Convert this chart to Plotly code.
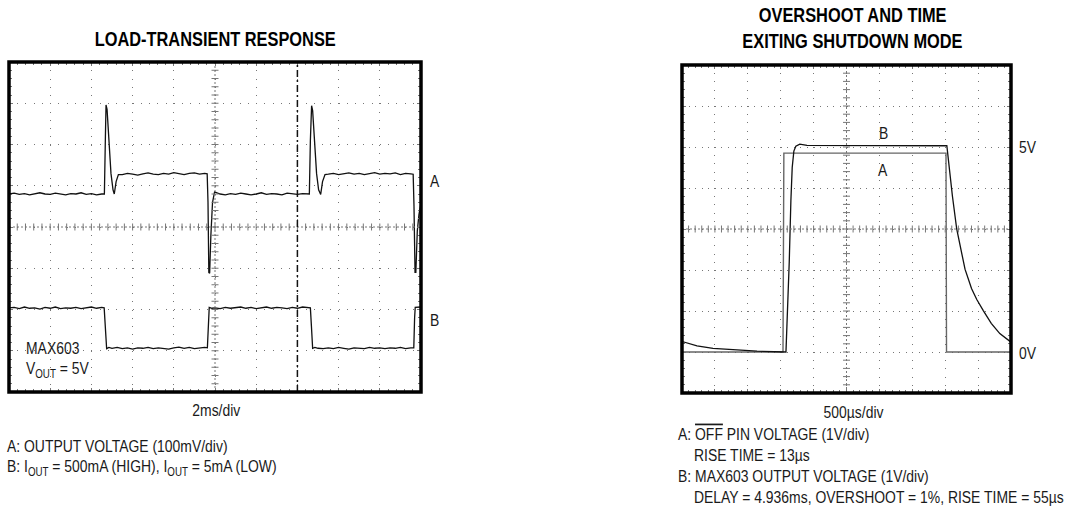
import plotly.graph_objects as go
import numpy as np

# ---------------- DATA ----------------
# Left scope: LOAD-TRANSIENT RESPONSE (x in ms, 2 ms/div; y in screen divisions 0..8)
a_time = [0.0, 0.25, 0.5, 0.75, 1.0, 1.25, 1.5, 1.75, 2.0, 2.25, 2.5, 2.75, 3.0, 3.25, 3.5, 3.75, 4.0, 4.25, 4.5,
          4.63, 4.68, 4.71, 4.76, 4.85, 4.95, 5.05, 5.11, 5.2, 5.31,
          5.5, 5.75, 6.0, 6.25, 6.5, 6.75, 7.0, 7.25, 7.5, 7.75, 8.0, 8.25, 8.5, 8.75, 9.0, 9.25, 9.5,
          9.62, 9.66, 9.70, 9.74, 9.80, 9.88, 9.98, 10.1,
          10.25, 10.5, 10.75, 11.0, 11.25, 11.5, 11.75, 12.0, 12.25, 12.5, 12.75, 13.0, 13.25, 13.5, 13.75, 14.0, 14.25, 14.5,
          14.58, 14.63, 14.69, 14.74, 14.83, 14.93, 15.03, 15.13, 15.22, 15.34,
          15.5, 15.75, 16.0, 16.25, 16.5, 16.75, 17.0, 17.25, 17.5, 17.75, 18.0, 18.25, 18.5, 18.75, 19.0, 19.25, 19.5,
          19.62, 19.66, 19.71, 19.75, 19.82, 19.90, 20.0]
a_level = [4.80, 4.82, 4.79, 4.81, 4.78, 4.80, 4.83, 4.80, 4.79, 4.82, 4.80, 4.78, 4.81, 4.80, 4.83, 4.79, 4.81, 4.78, 4.80,
           4.80, 6.20, 6.96, 6.85, 6.00, 5.30, 4.90, 4.80, 5.10, 5.27,
           5.27, 5.30, 5.28, 5.26, 5.29, 5.31, 5.28, 5.27, 5.30, 5.28, 5.32, 5.29, 5.27, 5.30, 5.31, 5.28, 5.30,
           5.29, 4.60, 2.90, 2.88, 3.80, 4.60, 4.85, 4.82,
           4.80, 4.78, 4.81, 4.79, 4.82, 4.80, 4.78, 4.80, 4.83, 4.79, 4.81, 4.80, 4.78, 4.82, 4.80, 4.79, 4.81, 4.80,
           4.80, 6.10, 6.94, 6.82, 6.00, 5.30, 4.90, 4.79, 5.10, 5.27,
           5.28, 5.30, 5.27, 5.29, 5.31, 5.28, 5.30, 5.27, 5.29, 5.32, 5.28, 5.30, 5.29, 5.31, 5.27, 5.30, 5.29,
           5.28, 4.50, 2.90, 2.90, 3.90, 4.30, 4.58]

b_time = [0.0, 0.25, 0.5, 0.75, 1.0, 1.25, 1.5, 1.75, 2.0, 2.25, 2.5, 2.75, 3.0, 3.25, 3.5, 3.75, 4.0, 4.25, 4.5,
          4.62, 4.66, 4.74, 4.85,
          5.0, 5.25, 5.5, 5.75, 6.0, 6.25, 6.5, 6.75, 7.0, 7.25, 7.5, 7.75, 8.0, 8.25, 8.5, 8.75, 9.0, 9.25, 9.5,
          9.63, 9.68, 9.72, 9.85,
          10.0, 10.25, 10.5, 10.75, 11.0, 11.25, 11.5, 11.75, 12.0, 12.25, 12.5, 12.75, 13.0, 13.25, 13.5, 13.75, 14.0, 14.25, 14.5,
          14.63, 14.68, 14.74, 14.85,
          15.0, 15.25, 15.5, 15.75, 16.0, 16.25, 16.5, 16.75, 17.0, 17.25, 17.5, 17.75, 18.0, 18.25, 18.5, 18.75, 19.0, 19.25, 19.5,
          19.65, 19.69, 19.72, 20.0]
b_level = [2.04, 2.05, 2.02, 2.06, 2.03, 2.04, 2.01, 2.05, 2.03, 2.06, 2.02, 2.04, 2.03, 2.05, 2.02, 2.04, 2.06, 2.03, 2.05,
           2.04, 1.60, 1.05, 1.08,
           1.06, 1.08, 1.05, 1.07, 1.04, 1.07, 1.06, 1.08, 1.05, 1.07, 1.06, 1.04, 1.07, 1.09, 1.06, 1.08, 1.05, 1.07, 1.08,
           1.07, 1.90, 2.05, 2.03,
           2.04, 2.02, 2.05, 2.03, 2.04, 2.06, 2.03, 2.05, 2.02, 2.04, 2.06, 2.03, 2.05, 2.04, 2.02, 2.05, 2.03, 2.06, 2.04,
           2.04, 1.60, 1.06, 1.08,
           1.06, 1.05, 1.07, 1.05, 1.08, 1.06, 1.04, 1.07, 1.06, 1.05, 1.08, 1.06, 1.07, 1.05, 1.07, 1.06, 1.08, 1.05, 1.07,
           1.07, 1.80, 2.05, 2.06]

# Right scope: OVERSHOOT AND TIME EXITING SHUTDOWN MODE (x in us, 500 us/div; y in volts, 1 V/div)
off_time = [0, 1535, 1548, 4012, 4020, 5000]
off_volt = [0.0, 0.0, 4.85, 4.85, 0.0, 0.0]

out_time = [0, 15, 228, 471, 836, 1140, 1580, 1600, 1630, 1655, 1675, 1700, 1730, 1790, 1900,
            4025, 4060, 4110, 4175, 4240, 4301, 4400, 4480, 4579, 4700, 4830, 4959, 5000]
out_volt = [0.26, 0.25, 0.15, 0.09, 0.05, 0.02, 0.0, 0.8, 2.2, 3.7, 4.5, 4.9, 5.02, 5.07, 5.04,
            5.03, 4.5, 3.8, 3.0, 2.45, 2.02, 1.55, 1.28, 1.01, 0.7, 0.45, 0.28, 0.24]

# ---------------- STYLE ----------------
W, H = 1070, 520
FONT = "Liberation Sans, Arial, sans-serif"
TXT = "#1a1a1a"
GRID = "#777777"
SQUEEZE = 0.82   # condensed lettering of the original


def px(x):
    return x / W


def py(y):
    return 1 - y / H


fig = go.Figure()

# traces
fig.add_trace(go.Scatter(x=a_time, y=a_level, mode="lines", line=dict(color="#111", width=1.3),
                         xaxis="x", yaxis="y", hoverinfo="skip", showlegend=False))
fig.add_trace(go.Scatter(x=b_time, y=b_level, mode="lines", line=dict(color="#111", width=1.3),
                         xaxis="x", yaxis="y", hoverinfo="skip", showlegend=False))
fig.add_trace(go.Scatter(x=off_time, y=off_volt, mode="lines", line=dict(color="#666", width=1.4),
                         xaxis="x2", yaxis="y2", hoverinfo="skip", showlegend=False))
fig.add_trace(go.Scatter(x=out_time, y=out_volt, mode="lines", line=dict(color="#111", width=1.3),
                         xaxis="x2", yaxis="y2", hoverinfo="skip", showlegend=False))

# centre-line tick marks (decoration of the graticule)
lx = np.linspace(0, 20, 51)
ly = np.linspace(0, 8, 41)
rx = np.linspace(0, 5000, 51)
ry = np.linspace(-1, 7, 41)
tick_m = dict(color=GRID, size=5, line=dict(color=GRID, width=1))
fig.add_trace(go.Scatter(x=lx, y=[4] * len(lx), mode="markers", marker=dict(symbol="line-ns", **tick_m),
                         xaxis="x", yaxis="y", hoverinfo="skip", showlegend=False))
fig.add_trace(go.Scatter(x=[10] * len(ly), y=ly, mode="markers", marker=dict(symbol="line-ew", **tick_m),
                         xaxis="x", yaxis="y", hoverinfo="skip", showlegend=False))
fig.add_trace(go.Scatter(x=rx, y=[3] * len(rx), mode="markers", marker=dict(symbol="line-ns", **tick_m),
                         xaxis="x2", yaxis="y2", hoverinfo="skip", showlegend=False))
fig.add_trace(go.Scatter(x=[2500] * len(ry), y=ry, mode="markers", marker=dict(symbol="line-ew", **tick_m),
                         xaxis="x2", yaxis="y2", hoverinfo="skip", showlegend=False))


def axis(domain, rng, dtick, mdtick, dash):
    return dict(domain=domain, range=rng, dtick=dtick, tick0=rng[0], showgrid=True, gridcolor=GRID,
                gridwidth=1, griddash=dash, zeroline=False, showline=False, showticklabels=False,
                ticks="inside", ticklen=4, tickcolor=GRID, mirror="ticks",
                minor=dict(dtick=mdtick, tick0=rng[0], ticks="inside", ticklen=3, tickcolor=GRID, showgrid=False),
                fixedrange=True)


fig.update_layout(
    width=W, height=H, autosize=False,
    margin=dict(l=0, r=0, t=0, b=0),
    paper_bgcolor="white", plot_bgcolor="white",
    font=dict(family=FONT, size=17, color=TXT),
    xaxis=dict(axis([px(9), px(421)], [0, 20], 2, 0.4, "1px,7.25px"), anchor="y"),
    yaxis=dict(axis([py(392), py(62)], [0, 8], 1, 0.2, "1px,7.24px"), anchor="x"),
    xaxis2=dict(axis([px(682), px(1011)], [0, 5000], 500, 100, "1px,7.2px"), anchor="y2"),
    yaxis2=dict(axis([py(393), py(65)], [-1, 7], 1, 0.2, "1px,5.58px"), anchor="x2"),
)

shapes = []
# centre lines
shapes.append(dict(type="line", xref="x", yref="y domain", x0=10, x1=10, y0=0, y1=1,
                   line=dict(color=GRID, width=1, dash="2px,2px")))
shapes.append(dict(type="line", xref="x domain", yref="y", x0=0, x1=1, y0=4, y1=4,
                   line=dict(color=GRID, width=1, dash="2px,2px")))
shapes.append(dict(type="line", xref="x2", yref="y2 domain", x0=2500, x1=2500, y0=0, y1=1,
                   line=dict(color=GRID, width=1, dash="2px,2px")))
shapes.append(dict(type="line", xref="x2 domain", yref="y2", x0=0, x1=1, y0=3, y1=3,
                   line=dict(color=GRID, width=1, dash="2px,2px")))
# cursor (dash-dot) on left scope
shapes.append(dict(type="line", xref="x", yref="y domain", x0=14, x1=14, y0=0, y1=1,
                   line=dict(color="#111", width=1.5, dash="7px,3px,2px,3px")))
# frames
shapes.append(dict(type="rect", xref="x domain", yref="y domain", x0=0, x1=1, y0=0, y1=1,
                   line=dict(color="black", width=3.5)))
shapes.append(dict(type="rect", xref="x2 domain", yref="y2 domain", x0=0, x1=1, y0=0, y1=1,
                   line=dict(color="black", width=3.5)))
fig.update_layout(shapes=shapes)

ann = []


def text(t, x, y, xanchor="center", size=17, bold=False):
    ann.append(dict(text=("<b>%s</b>" % t) if bold else t, x=px(x), y=py(y), xref="paper", yref="paper",
                    xanchor=xanchor, yanchor="middle", align=xanchor, showarrow=False,
                    font=dict(family=FONT, size=size, color="black" if bold else TXT)))


# left scope texts
text("LOAD-TRANSIENT RESPONSE", 215, 39, size=20, bold=True)
text("A", 428, 181, xanchor="left")
text("B", 428, 320, xanchor="left")
text("MAX603", 24, 348, xanchor="left")
text("V<sub>OUT</sub> = 5V", 24, 370, xanchor="left")
text("2ms/div", 216, 410)
text("A: OUTPUT VOLTAGE (100mV/div)", 5, 446, xanchor="left")
text("B: I<sub>OUT</sub> = 500mA (HIGH), I<sub>OUT</sub> = 5mA (LOW)", 5, 468, xanchor="left")

# right scope texts
text("OVERSHOOT AND TIME", 852, 15, size=20, bold=True)
text("EXITING SHUTDOWN MODE", 852, 41, size=20, bold=True)
text("B", 883, 133)
text("A", 883, 171)
text("5V", 1017, 147, xanchor="left")
text("0V", 1017, 353, xanchor="left")
text("500\u00b5s/div", 854, 412)
text("A: <span style=\"text-decoration:overline\">OFF</span> PIN VOLTAGE (1V/div)", 676, 434, xanchor="left")
text("RISE TIME = 13\u00b5s", 692, 455, xanchor="left")
text("B: MAX603 OUTPUT VOLTAGE (1V/div)", 676, 476, xanchor="left")
text("DELAY = 4.936ms, OVERSHOOT = 1%, RISE TIME = 55\u00b5s", 692, 497, xanchor="left")

fig.update_layout(annotations=ann)

# condense the lettering horizontally about each text's anchor point
post = """
document.body.style.margin='0';
document.body.style.overflow='hidden';
document.querySelectorAll('.annotation-text').forEach(function(t){
  var X = parseFloat(t.getAttribute('x')) || 0;
  var k = %s;
  var prev = t.getAttribute('transform') || '';
  t.setAttribute('transform', prev + ' translate(' + (X*(1-k)).toFixed(2) + ',0) scale(' + k + ',1)');
});
""" % SQUEEZE

fig.write_html("out.html", config=dict(displayModeBar=False, staticPlot=True), post_script=post)
